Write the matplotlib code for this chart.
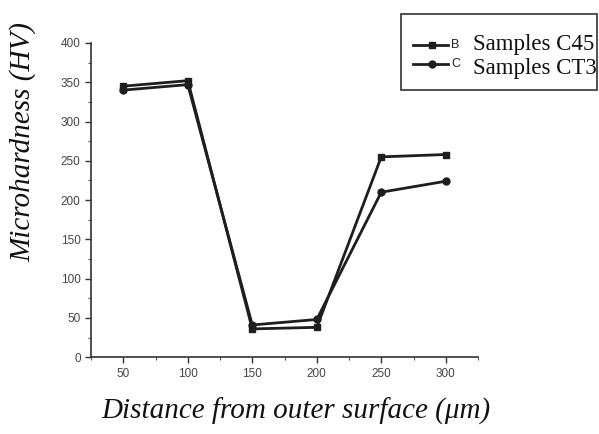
import matplotlib
matplotlib.use("Agg")
import matplotlib.pyplot as plt
from matplotlib.lines import Line2D
from matplotlib.patches import Rectangle
from matplotlib.ticker import MultipleLocator

distance = [50, 100, 150, 200, 250, 300]
c45 = [345, 352, 36, 38, 255, 258]
ct3 = [340, 347, 41, 48, 210, 224]
series_names = ["Samples C45", "Samples CT3"]
series_tags = ["B", "C"]
xticks = [50, 100, 150, 200, 250, 300]
yticks = [0, 50, 100, 150, 200, 250, 300, 350, 400]

fig = plt.figure(figsize=(5.99, 4.34), dpi=100)
ax = fig.add_axes([0.152, 0.177, 0.646, 0.724])

ink = "#1e1e1e"
ax.plot(distance, c45, color=ink, lw=2, marker="s", ms=5)
ax.plot(distance, ct3, color=ink, lw=2, marker="o", ms=5)

ax.set_xlim(25, 325)
ax.set_ylim(0, 400)
ax.set_xticks(xticks)
ax.set_yticks(yticks)
ax.xaxis.set_minor_locator(MultipleLocator(25))
ax.yaxis.set_minor_locator(MultipleLocator(25))
for s in ["top", "right"]:
    ax.spines[s].set_visible(False)
for s in ["left", "bottom"]:
    ax.spines[s].set_color("#333333")
    ax.spines[s].set_linewidth(1.2)
ax.tick_params(which="major", direction="out", length=4, width=1, colors="#333333",
               labelsize=8.5, labelcolor="#444444")
ax.tick_params(which="minor", direction="out", length=2.5, width=0.8, colors="#555555")
for lab in ax.get_xticklabels() + ax.get_yticklabels():
    lab.set_fontfamily("Liberation Sans")

ax.set_xlabel("Distance from outer surface (μm)", fontfamily="Liberation Serif",
              fontstyle="italic", fontsize=21, color="#111111")
ax.set_ylabel("Microhardness (HV)", fontfamily="Liberation Serif",
              fontstyle="italic", fontsize=21, color="#111111")
ax.xaxis.set_label_coords(0.53, -0.13)
ax.yaxis.set_label_coords(-0.142, 0.685)

# legend box
fig.patches.append(Rectangle((401/599, 1 - 90/434), 196/599, 76/434,
                             transform=fig.transFigure, fill=False,
                             edgecolor="#333333", lw=1.2))
markers = ["s", "o"]
handle_rows = [45, 64]
text_rows = [50, 74]
for m, yh, yt, tag, name in zip(markers, handle_rows, text_rows, series_tags, series_names):
    yf = 1 - yh / 434
    fig.add_artist(Line2D([413/599, 448/599], [yf, yf], transform=fig.transFigure,
                          color=ink, lw=2))
    fig.add_artist(Line2D([432/599], [yf], transform=fig.transFigure,
                          color=ink, marker=m, ms=5))
    fig.text(451/599, yf, tag, fontfamily="Liberation Sans", fontsize=9,
             va="center", ha="left", color="#222222")
    fig.text(473/599, 1 - yt / 434, name, fontfamily="Liberation Serif", fontsize=16.5,
             va="baseline", ha="left", color="#111111")

fig.savefig("out.png", dpi=100)
